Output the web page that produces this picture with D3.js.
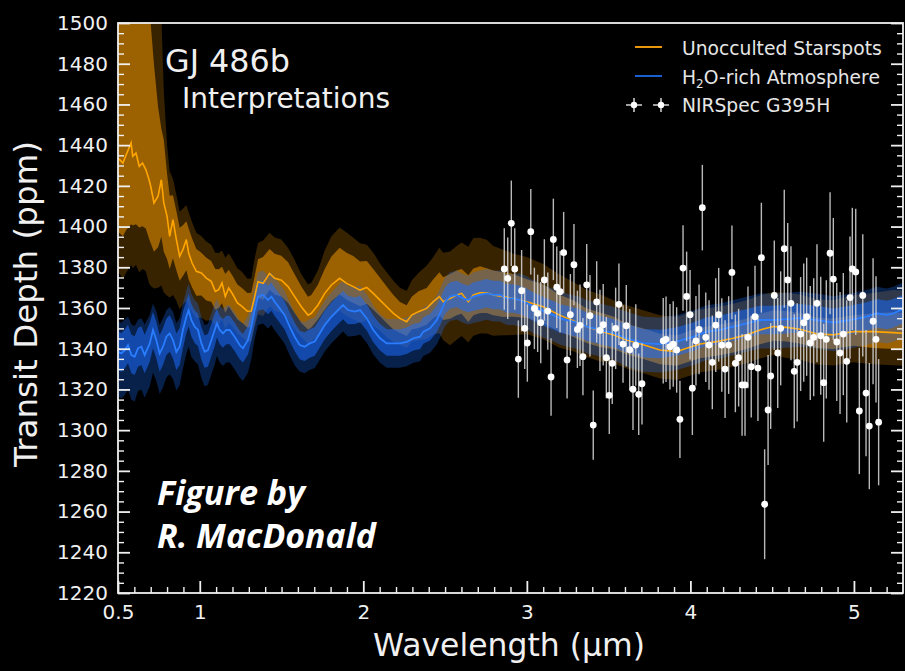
<!DOCTYPE html>
<html>
<head>
<meta charset="utf-8">
<script src="https://cdn.jsdelivr.net/npm/d3@7"></script>
<style>
  html, body { margin: 0; background: #000; }
  svg { display: block; }
</style>
</head>
<body>
<svg id="chart" width="905" height="671"></svg>
<script>
// ---------- Unocculted starspot model: wavelength (µm), median depth (ppm), spreads above/below median (ppm)
const spotWl = [
  0.50,0.51,0.53,0.55,0.58,0.59,0.61,0.63,0.65,0.67,
  0.69,0.70,0.72,0.745,0.765,0.78,0.80,0.816,0.836,0.857,
  0.877,0.897,0.918,0.932,0.953,0.979,1.01,1.04,1.07,1.095,
  1.116,1.136,1.156,1.177,1.203,1.23,1.258,1.291,1.315,1.336,
  1.356,1.387,1.427,1.458,1.499,1.54,1.58,1.621,1.662,1.682,
  1.723,1.764,1.805,1.855,1.898,1.939,1.98,2.021,2.061,2.102,
  2.143,2.184,2.224,2.265,2.296,2.337,2.387,2.428,2.465,2.489,
  2.53,2.571,2.601,2.642,2.673,2.714,2.754,2.795,2.856,2.917,
  3.0,3.1,3.2,3.284,3.366,3.447,3.529,3.61,3.712,3.814,
  3.916,3.977,4.058,4.16,4.262,4.344,4.425,4.507,4.589,4.67,
  4.772,4.874,4.996,5.118,5.241,5.30
];
const spotMed = [
  1433,1432.9,1431.2,1435.3,1441.1,1434.5,1436.1,1429.6,1431.2,1428,
  1423,1419.8,1411.6,1414.9,1423,1411.6,1405,1395.2,1403.4,1393.6,
  1385.4,1388.7,1393.6,1387,1382.1,1378,1377.2,1374.7,1373.1,1368.2,
  1369,1372.3,1365.7,1369.8,1366.5,1362.5,1360.8,1358.4,1358.5,1365.6,
  1372.9,1372.1,1377,1374.6,1373.7,1370.5,1365.6,1360.6,1356.5,1357.4,
  1361.5,1367.2,1371.3,1374.6,1372.1,1370.5,1368.8,1370.1,1367.2,1363.9,
  1360.6,1357.4,1354.9,1353.3,1356.5,1358.2,1359.8,1363.1,1365.6,1363.1,
  1364.7,1366.4,1367.2,1363.1,1366.4,1367.5,1367.5,1366.4,1365.6,1364.7,
  1363.1,1360.6,1356.5,1353.8,1350.8,1348.8,1346.8,1344.3,1341.9,1339.4,
  1338.6,1340.2,1342.3,1343.5,1345.1,1346.8,1349.2,1350.9,1350.5,1349.6,
  1347.3,1346.8,1348.4,1348.4,1347.9,1347.6
];
const spotUp2 = [
  120,120,120,115,110,115,110,110,105,100,
  100,100,100,90,80,55,35,32,20,22,
  22,20,17,20,20,19,18,18,18,19,
  18,16,19,17,17,17,17,16,16,19,
  19,21,20,20,20,19,18,16,15,15,
  17,21,24,25,25,24,23,21,20,18,
  17,16,15,15,17,19,21,22,24,24,
  23,24,25,27,28,27,26,24,23,22,
  22,21,20,19,18,18,17,17,17,17,
  17,17,17,17,17,17,17,17,17,17,
  17,17,18,19,21,21
];
const spotUp1 = [
  95,95,95,90,85,85,80,80,75,75,
  80,80,68,44,25,31,21,20,12,14,
  14,12,9,12,12,11,10,10,10,11,
  10,8,11,9,9,9,9,9,9,10,
  11,13,12,12,12,12,11,10,9,9,
  10,12,14,15,15,15,14,13,12,11,
  10,9,8,8,9,10,10,11,12,12,
  12,12,12,13,13,13,12,12,12,12,
  11,11,10,10,9,9,9,8,8,8,
  8,8,8,8,8,8,8,8,8,8,
  8,8,8,9,10,10
];
const spotDn1 = [
  36,36,36,37,40,34,35,30,31,29,
  29,28,24,25,28,24,21,16,19,15,
  12,13,15,13,12,12,11,11,10,9,
  9,10,8,9,9,8,8,8,8,8,
  8,8,8,8,8,8,8,8,7,7,
  7,8,8,8,8,8,8,8,8,8,
  8,8,7,7,7,8,8,8,9,9,
  10,10,10,10,10,10,10,10,10,9,
  8,8,8,8,8,8,7,7,7,7,
  7,7,7,7,7,7,7,7,7,7,
  7,7,7,8,8,8
];
const spotDn2 = [
  56,56,57,58,60,55,55,52,52,50,
  51,49,42,45,52,44,39,30,37,30,
  26,27,30,26,24,23,22,21,19,17,
  17,18,16,17,16,15,15,15,15,15,
  16,16,16,16,16,16,16,15,14,14,
  15,16,16,16,16,16,16,16,16,15,
  15,14,13,13,13,14,15,16,18,19,
  23,22,21,20,20,20,20,20,19,18,
  16,16,16,15,15,15,14,14,14,14,
  14,14,14,14,14,14,14,14,15,15,
  15,15,15,16,16,16
];

// ---------- H2O-rich atmosphere model
const h2oWl = [
  0.50,0.52,0.541,0.561,0.582,0.602,0.622,0.643,0.663,0.694,
  0.714,0.734,0.755,0.775,0.796,0.816,0.836,0.857,0.877,0.897,
  0.918,0.932,0.948,0.969,0.989,1.01,1.03,1.05,1.071,1.091,
  1.105,1.122,1.142,1.162,1.183,1.213,1.244,1.264,1.295,1.315,
  1.336,1.356,1.387,1.417,1.438,1.458,1.489,1.519,1.55,1.58,
  1.611,1.641,1.672,1.703,1.733,1.764,1.805,1.845,1.876,1.906,
  1.949,1.98,2.021,2.061,2.102,2.143,2.184,2.224,2.265,2.306,
  2.347,2.367,2.408,2.449,2.469,2.5,2.53,2.571,2.612,2.642,
  2.673,2.714,2.754,2.795,2.836,2.877,2.917,2.958,2.999,3.04,
  3.081,3.121,3.162,3.203,3.244,3.284,3.325,3.366,3.447,3.529,
  3.61,3.712,3.814,3.916,4.018,4.099,4.181,4.262,4.344,4.425,
  4.507,4.589,4.67,4.772,4.874,4.976,5.078,5.139,5.2,5.241,
  5.3
];
const h2oMed = [
  1338.5,1337.7,1339.3,1341.8,1336.9,1336.1,1340.2,1341,1336.9,1342.6,
  1349.2,1344.3,1337.7,1341,1345.9,1347.5,1344.3,1338.5,1341,1349.2,
  1355.7,1359,1354.1,1350.8,1349.2,1342.6,1338.5,1339.3,1344.3,1349.2,
  1352.5,1349.2,1347.5,1349.2,1349.2,1345.9,1341.8,1340.2,1344.3,1350.8,
  1359,1365.6,1366.4,1363.9,1365.6,1363.1,1359.8,1356.5,1350.8,1345.9,
  1341.8,1341,1342.6,1343.5,1347.5,1351.6,1355.7,1359,1361.5,1359,
  1358.2,1359,1354.9,1349.2,1345.1,1342.6,1342.6,1342.6,1343.4,1345.1,
  1345.9,1348.4,1350,1354.1,1357.4,1363.1,1365.6,1366.4,1364.7,1363.9,
  1365.6,1366.4,1367.2,1366.4,1366.4,1364.7,1364.7,1363.9,1362.6,1360.6,
  1359.3,1357.7,1356.5,1354.9,1354.1,1353.3,1352.5,1350.8,1349.2,1347.6,
  1345.1,1342.7,1342.3,1343.5,1345.9,1348.4,1349.2,1350.9,1352.5,1354.1,
  1354.1,1354.5,1355,1354.1,1352.8,1354.1,1355.8,1357.4,1356.6,1357.4,
  1359.5
];
const h2oUp2 = [
  15,15,15,14,15,15,14,14,15,14,
  13,14,14,14,13,13,14,14,14,13,
  13,13,13,13,13,13,13,13,13,13,
  12,12,12,12,12,12,12,12,12,12,
  12,12,12,12,12,12,12,12,12,12,
  12,12,12,12,12,12,12,12,12,12,
  12,12,12,12,12,12,12,12,12,12,
  12,12,12,12,12,12,12,12,12,12,
  12,12,12,12,12,12,12,13,13,13,
  13,13,13,13,13,13,13,13,13,13,
  13,13,13,13,13,13,13,13,13,13,
  13,13,13,13,13,13,13,13,13,13,
  13
];
const h2oUp1 = [
  10,10,10,10,10,10,10,10,10,10,
  9,9,9,9,9,9,9,9,9,9,
  8,8,8,8,8,8,8,8,8,8,
  7,7,7,7,7,7,7,7,7,7,
  7,7,7,7,7,7,7,7,7,7,
  7,7,7,7,7,7,7,7,7,7,
  7,7,7,7,7,7,7,7,7,7,
  7,7,7,7,7,7,7,7,7,7,
  7,7,7,7,7,7,7,7,7,7,
  7,7,7,7,7,7,7,7,7,7,
  7,7,7,7,7,7,7,7,7,7,
  7,7,7,7,7,7,7,7,7,7,
  7
];
const h2oDn1 = [
  9,9,9,9,9,9,9,9,9,9,
  9,9,9,9,9,9,9,9,9,9,
  8,8,8,8,8,8,8,8,8,8,
  7,7,7,7,7,7,7,7,7,7,
  7,7,7,7,7,7,7,7,7,7,
  7,7,7,7,7,7,7,7,7,7,
  6,6,6,6,6,6,6,6,6,6,
  6,6,6,6,6,6,6,6,6,6,
  7,7,7,7,7,7,7,7,7,7,
  7,7,7,7,7,7,7,7,7,7,
  7,7,7,7,7,7,7,7,7,7,
  7,7,7,7,7,7,7,7,7,7,
  7
];
const h2oDn2 = [
  22,22,22,22,22,22,21,21,21,21,
  21,20,20,20,20,20,19,19,19,19,
  18,18,18,17,17,17,17,17,17,17,
  16,16,16,16,16,16,16,16,16,16,
  14,14,14,14,14,14,14,14,14,14,
  13,13,13,13,13,13,13,13,13,13,
  12,12,12,12,12,12,12,12,12,12,
  12,12,12,12,12,12,12,12,12,12,
  13,13,13,13,13,13,13,13,13,13,
  13,13,13,13,13,13,13,13,13,13,
  14,14,14,14,14,14,14,14,14,14,
  14,14,14,14,14,14,14,14,14,14,
  14
];

// ---------- NIRSpec G395H spectrum: wavelength (µm), depth (ppm), 1σ error (ppm)
const obsWl = [
  2.862,2.883,2.905,2.926,2.948,2.968,2.987,3.003,3.024,3.046,
  3.066,3.085,3.107,3.128,3.148,3.162,3.183,3.203,3.225,3.246,
  3.266,3.288,3.309,3.325,3.343,3.366,3.386,3.406,3.427,3.447,
  3.467,3.486,3.504,3.522,3.543,3.563,3.588,3.608,3.629,3.649,
  3.666,3.684,3.704,3.834,3.851,3.875,3.895,3.916,3.936,3.955,
  3.977,3.998,4.012,4.034,4.053,4.073,4.094,4.114,4.134,4.155,
  4.173,4.192,4.212,4.234,4.254,4.275,4.295,4.316,4.334,4.352,
  4.372,4.395,4.413,4.434,4.454,4.475,4.491,4.513,4.534,4.552,
  4.574,4.595,4.615,4.635,4.653,4.674,4.693,4.711,4.733,4.754,
  4.774,4.797,4.815,4.831,4.854,4.874,4.895,4.915,4.935,4.956,
  4.976,4.990,5.011,5.033,5.054,5.074,5.094,5.117,5.135,5.151
];
const obsDepth = [
  1379.2,1374.6,1401.6,1379.2,1334.9,1368.5,1350,1342.8,1397.5,1359.8,
  1357.4,1352.8,1373.8,1358.5,1326.1,1393.7,1370.2,1368,1387.2,1334.5,
  1356.7,1381.3,1349.5,1351.5,1336.1,1371.4,1356.2,1302.5,1363,1349,
  1351.8,1335.6,1317.1,1332.8,1350,1361.8,1342.3,1351.3,1339.5,1320.1,
  1341.8,1317.6,1322.8,1343.9,1344.6,1341,1342.3,1339.4,1305.3,1379.6,
  1365.7,1356.7,1320.6,1343.9,1349.5,1409.3,1345.6,1341.8,1333.3,1351.6,
  1356.7,1341.8,1330,1341.8,1377.5,1332.8,1335.6,1322.2,1322.2,1345.6,
  1331.2,1355.7,1330.5,1384.7,1263.6,1309.9,1326.6,1366.2,1337.9,1350,
  1389.1,1373.8,1362.3,1328.9,1333.3,1347.2,1352.8,1355.7,1342.8,1345.6,
  1362.3,1346.4,1323.3,1344.6,1386.9,1374.2,1343.3,1337.9,1347.2,1333.8,
  1365.1,1379.2,1377.7,1309.4,1366.2,1318.2,1302,1353.5,1344.6,1303.9
];
const obsErr = [
  20,20,21,20,19,20,20,19,21,20,
  19,20,20,19,19,20,20,20,20,19,
  20,20,19,20,19,20,20,17,20,20,
  20,20,19,20,20,20,19,20,20,20,
  20,20,20,21,21,21,21,21,19,21,
  22,22,23,22,22,21,22,22,23,23,
  23,23,24,24,23,24,24,25,25,25,
  25,25,26,27,27,27,26,27,27,28,
  29,28,28,28,29,28,29,29,28,29,
  29,29,29,29,30,30,29,30,30,30,
  30,30,31,31,30,31,31,31,31,31
];

// ---------- axis ticks and labels
const yTickValues = [1220,1240,1260,1280,1300,1320,1340,1360,1380,1400,1420,1440,1460,1480,1500];
const xTickValues = [0.5,1,2,3,4,5];
const xTickLabels = ["0.5","1","2","3","4","5"];
const legendLabels = ["Unocculted Starspots", "H2O-rich Atmosphere", "NIRSpec G395H"];

// ---------- layout
const W = 905, H = 671;
const plotL = 118, plotR = 903, plotT = 23, plotB = 593;
const FONT = "'DejaVu Sans', sans-serif";
const INK = "#f0f0f0";
const SPOT = "rgb(255,160,0)";
const H2O = "rgb(28,108,250)";

const svg = d3.select("#chart");
svg.append("rect").attr("width", W).attr("height", H).attr("fill", "#000");

const x = d3.scaleLinear().domain([0.5, 5.3]).range([plotL, plotR]);
const y = d3.scaleLinear().domain([1220, 1500]).range([plotB, plotT]);

svg.append("defs").append("clipPath").attr("id", "plotClip")
  .append("rect").attr("x", plotL).attr("y", plotT)
  .attr("width", plotR - plotL).attr("height", plotB - plotT);

const plot = svg.append("g").attr("clip-path", "url(#plotClip)");

const band = (wl, med, up, dn) => wl.map((w, i) => ({ w, lo: med[i] - dn[i], hi: med[i] + up[i] }));
const curve = (wl, med) => wl.map((w, i) => ({ w, v: med[i] }));
const area = d3.area().x(d => x(d.w)).y0(d => y(d.lo)).y1(d => y(d.hi));
const line = d3.line().x(d => x(d.w)).y(d => y(d.v));

// starspot envelopes
plot.append("path").datum(band(spotWl, spotMed, spotUp2, spotDn2))
  .attr("d", area).attr("fill", SPOT).attr("fill-opacity", 0.22);
plot.append("path").datum(band(spotWl, spotMed, spotUp1, spotDn1))
  .attr("d", area).attr("fill", SPOT).attr("fill-opacity", 0.5);

// water atmosphere envelopes
plot.append("path").datum(band(h2oWl, h2oMed, h2oUp2, h2oDn2))
  .attr("d", area).attr("fill", H2O).attr("fill-opacity", 0.3);
plot.append("path").datum(band(h2oWl, h2oMed, h2oUp1, h2oDn1))
  .attr("d", area).attr("fill", H2O).attr("fill-opacity", 0.55);

// median model spectra
plot.append("path").datum(curve(spotWl, spotMed))
  .attr("d", line).attr("fill", "none").attr("stroke", "#ffa500").attr("stroke-width", 1.6);
plot.append("path").datum(curve(h2oWl, h2oMed))
  .attr("d", line).attr("fill", "none").attr("stroke", "#2a7dff").attr("stroke-width", 1.8);

// observed transmission spectrum
const obs = obsWl.map((w, i) => ({ w, d: obsDepth[i], e: obsErr[i] }));
plot.append("g").selectAll("line").data(obs).join("line")
  .attr("x1", d => x(d.w)).attr("x2", d => x(d.w))
  .attr("y1", d => y(d.d - d.e)).attr("y2", d => y(d.d + d.e))
  .attr("stroke", "#d9d9d9").attr("stroke-opacity", 0.85).attr("stroke-width", 1.4);
plot.append("g").selectAll("circle").data(obs).join("circle")
  .attr("cx", d => x(d.w)).attr("cy", d => y(d.d)).attr("r", 3.4).attr("fill", "#fff");

// ---------- axes (ticks point inward)
function styleAxis(g, width) {
  g.select(".domain").remove();
  g.selectAll(".tick line").attr("stroke", INK).attr("stroke-width", width);
  g.selectAll(".tick text").attr("fill", INK).style("font-family", FONT).style("font-size", "20px");
}
const yMinor = d3.range(1220, 1501, 5).filter(v => v % 20 !== 0);
const xMinor = d3.range(5, 54).map(v => v / 10).filter(v => Math.abs(v - Math.round(v)) > 1e-6 && v > 0.5 && v < 5.3);

svg.append("g").attr("transform", `translate(${plotL},0)`)
  .call(d3.axisLeft(y).tickValues(yTickValues).tickFormat(d3.format("d")).tickSize(-12).tickPadding(10))
  .call(g => styleAxis(g, 1.8));
svg.append("g").attr("transform", `translate(${plotL},0)`)
  .call(d3.axisLeft(y).tickValues(yMinor).tickFormat("").tickSize(-6))
  .call(g => styleAxis(g, 1.4));
svg.append("g").attr("transform", `translate(${plotR},0)`)
  .call(d3.axisRight(y).tickValues(yTickValues).tickFormat("").tickSize(-12))
  .call(g => styleAxis(g, 1.8));
svg.append("g").attr("transform", `translate(${plotR},0)`)
  .call(d3.axisRight(y).tickValues(yMinor).tickFormat("").tickSize(-6))
  .call(g => styleAxis(g, 1.4));
svg.append("g").attr("transform", `translate(0,${plotB})`)
  .call(d3.axisBottom(x).tickValues(xTickValues).tickFormat((d, i) => xTickLabels[i]).tickSize(-12).tickPadding(12))
  .call(g => styleAxis(g, 1.8));
svg.append("g").attr("transform", `translate(0,${plotB})`)
  .call(d3.axisBottom(x).tickValues(xMinor).tickFormat("").tickSize(-6))
  .call(g => styleAxis(g, 1.4));

// frame
svg.append("rect").attr("x", plotL).attr("y", plotT)
  .attr("width", plotR - plotL).attr("height", plotB - plotT)
  .attr("fill", "none").attr("stroke", INK).attr("stroke-width", 1.8);

// fit a text element to a given rendered width by adjusting its font size
function fitWidth(t, target) {
  const fs = parseFloat(t.style("font-size"));
  const w = t.node().getComputedTextLength();
  if (w > 0) t.style("font-size", (fs * target / w).toFixed(2) + "px");
  return t;
}

// axis titles
fitWidth(svg.append("text").attr("x", 509).attr("y", 656).attr("text-anchor", "middle")
  .attr("fill", INK).style("font-family", FONT).style("font-size", "31px")
  .text("Wavelength (µm)"), 272);
fitWidth(svg.append("text").attr("transform", "translate(37,304) rotate(-90)").attr("text-anchor", "middle")
  .attr("fill", INK).style("font-family", FONT).style("font-size", "31px")
  .text("Transit Depth (ppm)"), 326);

// in-plot titles
fitWidth(svg.append("text").attr("x", 165).attr("y", 72).attr("fill", INK)
  .style("font-family", FONT).style("font-size", "30px").text("GJ 486b"), 125);
fitWidth(svg.append("text").attr("x", 182).attr("y", 108).attr("fill", INK)
  .style("font-family", FONT).style("font-size", "26px").text("Interpretations"), 208);

// credit
const credit = svg.append("g").attr("fill", "#fff")
  .style("font-family", "'Open Sans', 'Lato', sans-serif").style("font-weight", "bold").style("font-style", "italic");
fitWidth(credit.append("text").attr("x", 157).attr("y", 505).style("font-size", "30px").text("Figure by"), 148);
fitWidth(credit.append("text").attr("x", 157).attr("y", 548).style("font-size", "30px").text("R. MacDonald"), 219);

// ---------- legend
const leg = svg.append("g").style("font-family", FONT).attr("fill", "#e6e6e6");
leg.append("line").attr("x1", 635).attr("x2", 662).attr("y1", 47).attr("y2", 47)
  .attr("stroke", "#e8960c").attr("stroke-width", 2);
leg.append("line").attr("x1", 635).attr("x2", 662).attr("y1", 76).attr("y2", 76)
  .attr("stroke", "#1a5fd0").attr("stroke-width", 2);
[634, 661].forEach(cx => {
  leg.append("line").attr("x1", cx - 8).attr("x2", cx + 8).attr("y1", 105).attr("y2", 105)
    .attr("stroke", "#e6e6e6").attr("stroke-width", 1.4);
  leg.append("line").attr("x1", cx).attr("x2", cx).attr("y1", 98).attr("y2", 112)
    .attr("stroke", "#e6e6e6").attr("stroke-width", 1.4);
  leg.append("circle").attr("cx", cx).attr("cy", 105).attr("r", 3.2).attr("fill", "#fff");
});
const t1 = leg.append("text").attr("x", 682).attr("y", 55).style("font-size", "17px").text(legendLabels[0]);
fitWidth(t1, 200);
const fsLeg = t1.style("font-size");
const t2 = leg.append("text").attr("x", 682).attr("y", 84).style("font-size", fsLeg);
t2.append("tspan").text("H");
t2.append("tspan").attr("dy", 4).style("font-size", "12px").text("2");
t2.append("tspan").attr("dy", -4).text("O-rich Atmosphere");
leg.append("text").attr("x", 682).attr("y", 112).style("font-size", fsLeg).text(legendLabels[2]);
</script>
</body>
</html>
